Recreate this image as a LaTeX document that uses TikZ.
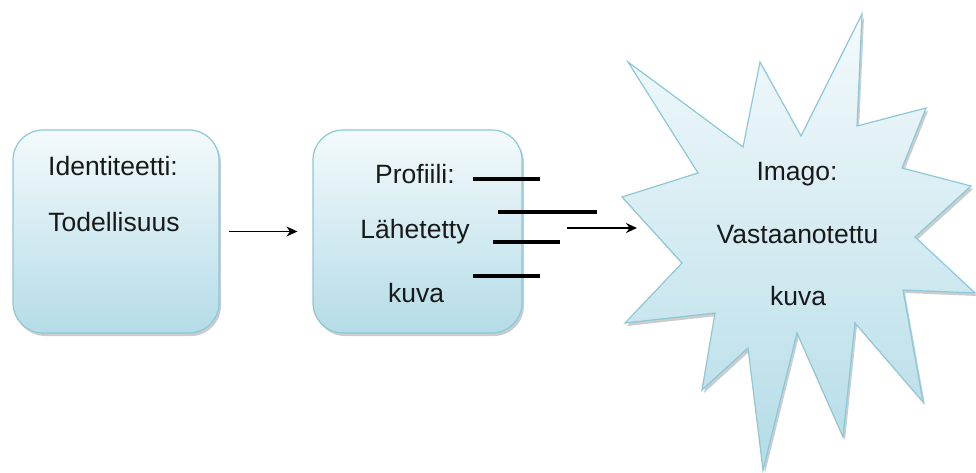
\documentclass[tikz,border=0pt]{standalone}
\usepackage{fontspec}
\setmainfont{Liberation Sans}
\usetikzlibrary{arrows.meta,shadows}
\definecolor{edgeblue}{HTML}{8CC8DA}
\definecolor{topblue}{HTML}{F4FAFC}
\definecolor{lowblue}{HTML}{B4DCE7}
\tikzset{
  panel/.style={draw=edgeblue,line width=1.2pt,rounded corners=30pt,top color=topblue,bottom color=lowblue,
    drop shadow={shadow xshift=2pt,shadow yshift=-3pt,opacity=0.4},minimum height=203pt},
  txt/.style={font=\fontsize{26.5}{30}\selectfont,text=black!90,inner sep=0pt,anchor=base},
  slit/.style={line width=4.5pt},
  link/.style={-{Stealth[length=11pt,width=10pt]},line width=1.7pt}
}
\begin{document}
\begin{tikzpicture}[x=1pt,y=-1pt]
\useasboundingbox (0,0) rectangle (976,472);

\node[panel,minimum width=206pt] (ident) at (116,231.5) {};
\node[txt] (identhead) at (113,175) {Identiteetti:};
\node[txt] (identbody) at (114,231.5) {Todellisuus};

\node[panel,minimum width=209pt] (prof) at (417.5,231.5) {};
\node[txt] (profhead) at (415,183) {Profiili:};
\node[txt] (profbody) at (415,238) {Lähetetty};
\node[txt] (proftail) at (416,302) {kuva};

\foreach \a/\b/\y in {473/540/179, 498/597/212, 493/560/242, 473/540/276}
  \draw[slit] (\a,\y) -- (\b,\y);

\path[draw=edgeblue,line width=1.2pt,top color=topblue,bottom color=lowblue,
  drop shadow={shadow xshift=2pt,shadow yshift=-3pt,opacity=0.4}]
  (628,62) -- (743,147) -- (760,62) -- (801,136) -- (862,14) -- (857,126)
  -- (926,108) -- (902,168) -- (971,186) -- (915,237) -- (975,293) -- (903,290)
  -- (923,402) -- (855,323) -- (843,437) -- (797,333) -- (763,470) -- (748,348)
  -- (702,390) -- (715,313) -- (625,323) -- (682,263) -- (622,197) -- (698,173) -- cycle;
\node[txt] (imagohead) at (797,180) {Imago:};
\node[txt] (imagobody) at (797.5,243) {Vastaanotettu};
\node[txt] (imagotail) at (798,305) {kuva};

\coordinate (sent) at (567,228);
\coordinate (burst) at (637,228);
\draw[link] ([xshift=9pt]ident.east) -- ([xshift=-15pt]prof.west);
\draw[link] (sent) -- (burst);
\end{tikzpicture}
\end{document}
